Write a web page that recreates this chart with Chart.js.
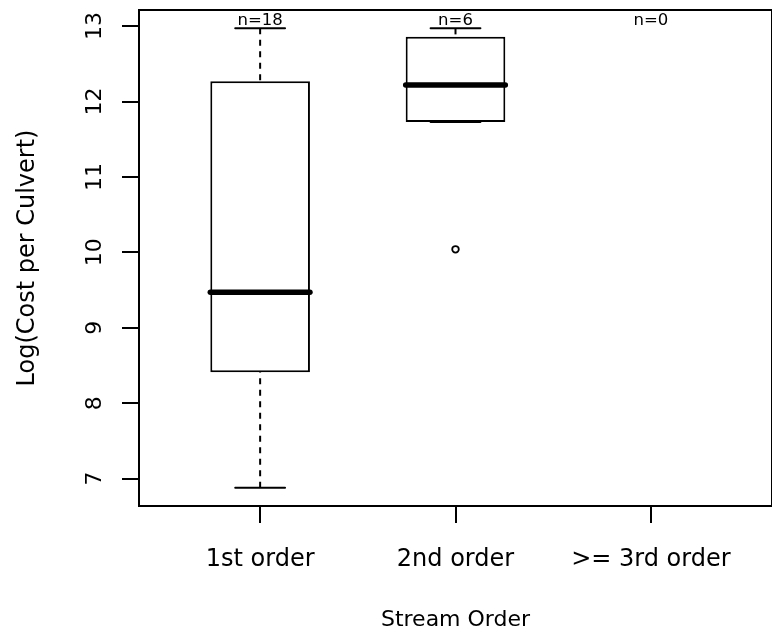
<!DOCTYPE html>
<html>
<head>
<meta charset="utf-8">
<script src="https://cdn.jsdelivr.net/npm/chart.js@4.4.0/dist/chart.umd.min.js"></script>
<style>
  html, body { margin: 0; padding: 0; background: #fff; }
  #wrap { width: 772px; height: 637px; }
</style>
</head>
<body>
<div id="wrap"><canvas id="boxChart" width="772" height="637"></canvas></div>
<script>
// ── Data ──
const categories = ['1st order', '2nd order', '>= 3rd order'];
const counts = [18, 6, 0];
const whiskerLow = [6.88, 11.73, null];
const quartile1 = [8.41, 11.73, null];
const medians = [9.47, 12.22, null];
const quartile3 = [12.27, 12.86, null];
const whiskerHigh = [12.97, 12.97, null];
const outliers = [[], [10.04], []];
const yTicks = [7, 8, 9, 10, 11, 12, 13];

const FONT = 'DejaVu Sans';
const positions = categories.map((c, i) => i + 1);

// R style axis limits: data range plus 4% each side
const allVals = [].concat(whiskerLow, whiskerHigh, ...outliers).filter(v => v != null);
const lo = Math.min(...allVals), hi = Math.max(...allVals);
const yMin = lo - 0.04 * (hi - lo);
const yMax = hi + 0.04 * (hi - lo);
const xMin = 0.5 - 0.04 * 3, xMax = 3.5 + 0.04 * 3;

const boxIdx = positions.map((p, i) => i).filter(i => quartile1[i] != null);
const boxData = boxIdx.map(i => ({ x: positions[i], y: [quartile1[i], quartile3[i]] }));
const outlierData = [];
outliers.forEach((arr, i) => arr.forEach(v => outlierData.push({ x: positions[i], y: v })));

// ── Boxplot extras: median, whiskers, staples, n labels, frame ──
const boxExtras = {
    id: 'boxExtras',
    afterDatasetsDraw(chart) {
        const { ctx, chartArea } = chart;
        const xs = chart.scales.x, ys = chart.scales.y;
        const bars = chart.getDatasetMeta(0).data;
        ctx.save();
        ctx.strokeStyle = '#000';

        boxIdx.forEach((i, j) => {
            const bar = bars[j];
            const cx = xs.getPixelForValue(positions[i]);
            const half = bar.width / 2;

            // whiskers (dashed), drawn from whisker end towards the box
            ctx.lineWidth = 2;
            ctx.lineCap = 'butt';
            ctx.setLineDash([6, 5.5]);
            ctx.beginPath();
            ctx.moveTo(cx, ys.getPixelForValue(whiskerHigh[i]));
            ctx.lineTo(cx, ys.getPixelForValue(quartile3[i]));
            ctx.moveTo(cx, ys.getPixelForValue(whiskerLow[i]));
            ctx.lineTo(cx, ys.getPixelForValue(quartile1[i]));
            ctx.stroke();
            ctx.setLineDash([]);

            // staples
            ctx.lineCap = 'round';
            ctx.beginPath();
            [whiskerHigh[i], whiskerLow[i]].forEach(v => {
                const py = ys.getPixelForValue(v);
                ctx.moveTo(cx - half / 2, py);
                ctx.lineTo(cx + half / 2, py);
            });
            ctx.stroke();

            // median
            ctx.lineWidth = 5.5;
            ctx.beginPath();
            const my = ys.getPixelForValue(medians[i]);
            ctx.moveTo(cx - half, my);
            ctx.lineTo(cx + half, my);
            ctx.stroke();
        });

        // n= labels along the top
        ctx.fillStyle = '#000';
        ctx.font = '16.5px "' + FONT + '"';
        ctx.textAlign = 'center';
        ctx.textBaseline = 'middle';
        positions.forEach((p, i) => {
            ctx.fillText('n=' + counts[i], xs.getPixelForValue(p), chartArea.top + 11);
        });

        // plot frame
        ctx.lineWidth = 2;
        ctx.lineCap = 'butt';
        ctx.strokeRect(chartArea.left, chartArea.top,
            chartArea.right - chartArea.left, chartArea.bottom - chartArea.top);
        ctx.restore();
    }
};

new Chart(document.getElementById('boxChart'), {
    type: 'bar',
    data: {
        datasets: [{
            data: boxData,
            backgroundColor: '#fff',
            borderColor: '#000',
            borderWidth: 2,
            borderSkipped: false,
            barPercentage: 0.51,
            categoryPercentage: 1
        }, {
            type: 'scatter',
            data: outlierData,
            pointRadius: 3.3,
            pointBorderWidth: 1.8,
            pointBorderColor: '#000',
            pointBackgroundColor: 'rgba(0,0,0,0)'
        }]
    },
    options: {
        responsive: false,
        animation: false,
        layout: { autoPadding: false, padding: { top: 10, right: 0, left: 0, bottom: 0 } },
        plugins: { legend: { display: false }, tooltip: { enabled: false } },
        scales: {
            x: {
                type: 'linear',
                min: xMin,
                max: xMax,
                offset: false,
                afterBuildTicks: s => { s.ticks = positions.map(v => ({ value: v })); },
                afterFit: s => { s.height = 131; s.paddingLeft = 0; s.paddingRight = 0; },
                border: { display: false },
                grid: { offset: false, drawOnChartArea: false, drawTicks: true, tickLength: 17, lineWidth: 2, color: '#000' },
                ticks: {
                    color: '#000', font: { family: FONT, size: 24 }, padding: 22,
                    maxRotation: 0, autoSkip: false,
                    callback: v => categories[v - 1]
                },
                title: {
                    display: true, text: 'Stream Order', color: '#000',
                    font: { family: FONT, size: 22 }, padding: { top: 0, bottom: 4 }
                }
            },
            y: {
                min: yMin,
                max: yMax,
                afterBuildTicks: s => { s.ticks = yTicks.map(v => ({ value: v })); },
                afterFit: s => { s.width = 139; s.paddingTop = 0; s.paddingBottom = 0; },
                border: { display: false },
                grid: { drawOnChartArea: false, drawTicks: true, tickLength: 17, lineWidth: 2, color: '#000' },
                ticks: {
                    color: '#000', font: { family: FONT, size: 22 }, padding: 13,
                    minRotation: 90, crossAlign: 'center', autoSkip: false
                },
                title: {
                    display: true, text: 'Log(Cost per Culvert)', color: '#000',
                    font: { family: FONT, size: 24 }, padding: { top: 13, bottom: 0 }
                }
            }
        }
    },
    plugins: [boxExtras]
});
</script>
</body>
</html>
